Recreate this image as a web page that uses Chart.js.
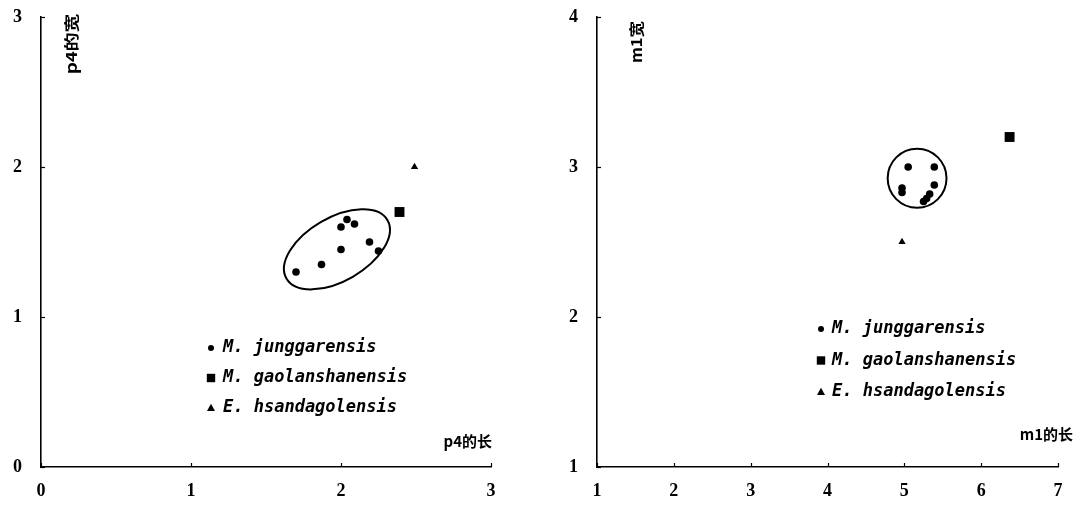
<!DOCTYPE html>
<html><head><meta charset="utf-8">
<script src="https://cdn.jsdelivr.net/npm/chart.js@4/dist/chart.umd.min.js"></script>
<style>
html,body{margin:0;padding:0;background:#fff;}
#wrap{position:relative;width:1075px;height:510px;overflow:hidden;}
canvas{position:absolute;top:0;}
#c1{left:0;}
#c2{left:545px;}
</style></head><body>
<div id="wrap">
<canvas id="c1" width="545" height="510"></canvas>
<canvas id="c2" width="530" height="510"></canvas>
</div>
<script>
// ---- data ----
const seriesNames = ['M. junggarensis', 'M. gaolanshanensis', 'E. hsandagolensis'];

// p4: length (x) vs width (y)
const p4Junggarensis = [
  {x:1.70,y:1.30},{x:1.87,y:1.35},{x:2.00,y:1.45},{x:2.00,y:1.60},
  {x:2.04,y:1.65},{x:2.09,y:1.62},{x:2.19,y:1.50},{x:2.25,y:1.44}
];
const p4Gaolanshanensis = [{x:2.39,y:1.70}];
const p4Hsandagolensis = [{x:2.49,y:2.00}];

// m1: length (x) vs width (y)
const m1Junggarensis = [
  {x:5.05,y:3.00},{x:5.39,y:3.00},{x:4.97,y:2.86},{x:4.97,y:2.83},
  {x:5.39,y:2.88},{x:5.33,y:2.82},{x:5.29,y:2.79},{x:5.25,y:2.77}
];
const m1Gaolanshanensis = [{x:6.37,y:3.20}];
const m1Hsandagolensis = [{x:4.97,y:2.50}];

const p4XTicks = [0, 1, 2, 3];
const p4YTicks = [0, 1, 2, 3];
const m1XTicks = [1, 2, 3, 4, 5, 6, 7];
const m1YTicks = [1, 2, 3, 4];

const p4Titles = {x:'p4的长', y:'p4的宽'};
const m1Titles = {x:'m1的长', y:'m1宽'};

// grouping ellipses (data units): centre, semi-axis along x units, semi-axis along y units, rotation deg
const p4Ellipse = {cx:1.973, cy:1.451, a:0.389, b:0.211, angle:30};
const m1Ellipse = {cx:5.166, cy:2.925, a:0.383, b:0.197, angle:0};

// ---- drawing helpers ----
const TICK_FONT = {family:'"Liberation Serif", "DejaVu Serif", serif', size:18, weight:'bold'};

function marker(ctx, style, x, y, s) {
  ctx.save();
  ctx.fillStyle = '#000';
  ctx.beginPath();
  if (style === 'circle') { ctx.arc(x, y, s, 0, Math.PI*2); }
  else if (style === 'rect') { ctx.rect(x - s, y - s, 2*s, 2*s); }
  else { ctx.moveTo(x, y - s); ctx.lineTo(x + s*0.95, y + s*0.7); ctx.lineTo(x - s*0.95, y + s*0.7); ctx.closePath(); }
  ctx.fill();
  ctx.restore();
}

const decorPlugin = {
  id: 'decor',
  afterDatasetsDraw(chart, args, opts) {
    const {ctx, scales} = chart;
    const xs = scales.x, ys = scales.y;
    const e = opts.ellipse;
    const cx = xs.getPixelForValue(e.cx), cy = ys.getPixelForValue(e.cy);
    const ax = Math.abs(xs.getPixelForValue(e.cx + e.a) - cx);
    const by = Math.abs(ys.getPixelForValue(e.cy + e.b) - cy);
    ctx.save();
    ctx.beginPath();
    ctx.ellipse(cx, cy, ax, by, -e.angle * Math.PI / 180, 0, Math.PI*2);
    ctx.lineWidth = 2;
    ctx.strokeStyle = '#000';
    ctx.stroke();
    ctx.restore();
  },
  afterDraw(chart, args, opts) {
    const {ctx, chartArea: ca, scales} = chart;
    const xs = scales.x, ys = scales.y;
    ctx.save();
    ctx.strokeStyle = '#000';
    ctx.lineWidth = 1.2;
    xs.ticks.forEach(t => {
      const px = Math.round(xs.getPixelForValue(t.value)) + 0.5;
      ctx.beginPath(); ctx.moveTo(px, ca.bottom); ctx.lineTo(px, ca.bottom - 4); ctx.stroke();
    });
    ys.ticks.forEach(t => {
      const py = Math.round(ys.getPixelForValue(t.value)) + 0.5;
      ctx.beginPath(); ctx.moveTo(ca.left, py); ctx.lineTo(ca.left + 4, py); ctx.stroke();
    });
    ctx.fillStyle = '#000';
    ctx.font = 'bold 15px "Noto Sans CJK SC", sans-serif';
    ctx.textBaseline = 'middle';
    ctx.textAlign = 'right';
    ctx.fillText(opts.titles.x, ca.right + opts.xTitle.dx, ca.bottom + opts.xTitle.dy);
    ctx.save();
    ctx.translate(ca.left + opts.yTitle.dx, ca.top + opts.yTitle.dy);
    ctx.rotate(-Math.PI/2);
    ctx.scale(opts.yTitle.stretch, 1);
    ctx.textAlign = 'center';
    ctx.fillText(opts.titles.y, 0, 0);
    ctx.restore();
    const L = opts.legend;
    const styles = ['circle', 'rect', 'triangle'];
    const sizes = [3, 4.2, 4.2];
    ctx.font = 'italic bold 17px "DejaVu Sans Mono", monospace';
    ctx.textAlign = 'left';
    chart.data.datasets.forEach((ds, i) => {
      const y = ca.top + L.top + i * L.gap;
      marker(ctx, styles[i], ca.left + L.mx, y, sizes[i]);
      ctx.fillText(ds.label, ca.left + L.tx, y);
    });
    ctx.restore();
  }
};

function makeChart(id, sets, xTicks, yTicks, titles, ellipse, geom) {
  const fixed = (vals) => (scale) => { scale.ticks = vals.map(v => ({value: v})); };
  return new Chart(document.getElementById(id), {
    type: 'scatter',
    data: {
      datasets: [
        {label: seriesNames[0], data: sets[0], pointStyle: 'circle', pointRadius: 3.8, backgroundColor: '#000', borderWidth: 0},
        {label: seriesNames[1], data: sets[1], pointStyle: 'rect', pointRadius: 7, backgroundColor: '#000', borderWidth: 0},
        {label: seriesNames[2], data: sets[2], pointStyle: 'triangle', pointRadius: 4.2, backgroundColor: '#000', borderWidth: 0}
      ]
    },
    options: {
      responsive: false,
      animation: false,
      events: [],
      layout: {padding: {left: 0, top: geom.top, right: geom.right, bottom: 0}},
      plugins: {
        legend: {display: false},
        tooltip: {enabled: false},
        decor: {
          ellipse: ellipse, titles: titles,
          xTitle: geom.xTitle, yTitle: geom.yTitle, legend: geom.legend
        }
      },
      scales: {
        x: {
          type: 'linear', min: xTicks[0], max: xTicks[xTicks.length-1],
          afterBuildTicks: fixed(xTicks),
          afterFit: (s) => { s.height = geom.xAxisH; s.paddingLeft = 0; s.paddingRight = 0; },
          grid: {display: false, drawTicks: false},
          border: {display: true, color: '#000', width: 1.6},
          ticks: {color: '#000', font: TICK_FONT, padding: 14, maxRotation: 0, autoSkip: false,
                  callback: (v) => String(v)}
        },
        y: {
          type: 'linear', min: yTicks[0], max: yTicks[yTicks.length-1],
          afterBuildTicks: fixed(yTicks),
          afterFit: (s) => { s.width = geom.yAxisW; s.paddingTop = 0; s.paddingBottom = 0; },
          grid: {display: false, drawTicks: false},
          border: {display: true, color: '#000', width: 1.6},
          ticks: {color: '#000', font: TICK_FONT, padding: 19, autoSkip: false,
                  callback: (v) => String(v)}
        }
      }
    },
    plugins: [decorPlugin]
  });
}

makeChart('c1', [p4Junggarensis, p4Gaolanshanensis, p4Hsandagolensis], p4XTicks, p4YTicks, p4Titles, p4Ellipse, {
  top: 17, right: 54, xAxisH: 43, yAxisW: 41,
  xTitle: {dx: 1, dy: -26},
  yTitle: {dx: 30, dy: 27, stretch: 1.25},
  legend: {mx: 170, tx: 182, top: 331, gap: 30}
});
makeChart('c2', [m1Junggarensis, m1Gaolanshanensis, m1Hsandagolensis], m1XTicks, m1YTicks, m1Titles, m1Ellipse, {
  top: 17, right: 17, xAxisH: 43, yAxisW: 52,
  xTitle: {dx: 15, dy: -33},
  yTitle: {dx: 39, dy: 25, stretch: 1.1},
  legend: {mx: 224, tx: 235, top: 312, gap: 31.5}
});
</script>
</body></html>
